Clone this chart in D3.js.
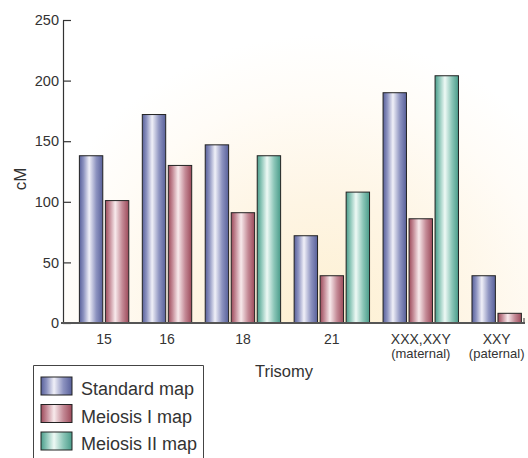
<!DOCTYPE html>
<html>
<head>
<meta charset="utf-8">
<script src="https://cdn.jsdelivr.net/npm/d3@7"></script>
<style>
  html, body { margin: 0; padding: 0; background: #fff; }
  svg { display: block; }
  text { font-family: "Liberation Sans", Arial, Helvetica, sans-serif; fill: #333; }
</style>
</head>
<body>
<svg id="chart" width="528" height="458"></svg>
<script>
// ---- data ----
const categoryLines = [["15"], ["16"], ["18"], ["21"], ["XXX,XXY", "(maternal)"], ["XXY", "(paternal)"]];
const standardMap = [138, 172, 147, 72, 190, 39];
const meiosisIMap = [101, 130, 91, 39, 86, 8];
const meiosisIIMap = [null, null, 138, 108, 204, null];
const seriesNames = ["Standard map", "Meiosis I map", "Meiosis II map"];
const yTicks = [0, 50, 100, 150, 200, 250];
const xTitle = "Trisomy";
const yTitle = "cM";

// ---- styles ----
const seriesColors = [
  { dark: "#58609a", mid: "#8d93c0", light: "#f0f0f8" },
  { dark: "#9c4a5a", mid: "#c48a96", light: "#f8eaec" },
  { dark: "#4a9c8a", mid: "#8cc6b8", light: "#eef9f5" }
];

const svg = d3.select("#chart");
const W = 528, H = 458;
const axisX = 63, plotTop = 20, plotBottom = 323, axisEnd = 527;

// layout in bar units
const leftPad = 0.63, groupGap = 0.42, barW = 0.9;
const seriesVals = [standardMap, meiosisIMap, meiosisIIMap];
const groups = [];
let u = leftPad;
categoryLines.forEach((lines, ci) => {
  const bars = [];
  seriesVals.forEach((vals, si) => {
    if (vals[ci] != null) bars.push({ si, v: vals[ci] });
  });
  bars.forEach((b, k) => b.u = u + k);
  groups.push({ lines, bars, start: u, n: bars.length });
  u += bars.length + groupGap;
});
const unitPx = 26;
const totalUnits = (axisEnd - axisX) / unitPx;

const x = d3.scaleLinear().domain([0, totalUnits]).range([axisX, axisEnd]);
const y = d3.scaleLinear().domain([0, 250]).range([plotBottom, plotTop]);

// ---- defs ----
const defs = svg.append("defs");
const bg = defs.append("radialGradient").attr("id", "bg")
  .attr("gradientUnits", "userSpaceOnUse")
  .attr("cx", 320).attr("cy", 335).attr("r", 300);
bg.append("stop").attr("offset", 0).attr("stop-color", "#fdefcf");
bg.append("stop").attr("offset", 0.45).attr("stop-color", "#fef5e4");
bg.append("stop").attr("offset", 0.8).attr("stop-color", "#fffcf7");
bg.append("stop").attr("offset", 1).attr("stop-color", "#ffffff");

seriesColors.forEach((c, i) => {
  const g = defs.append("linearGradient").attr("id", "grad" + i)
    .attr("x1", 0).attr("x2", 1).attr("y1", 0).attr("y2", 0);
  g.append("stop").attr("offset", 0).attr("stop-color", c.dark);
  g.append("stop").attr("offset", 0.18).attr("stop-color", c.mid);
  g.append("stop").attr("offset", 0.42).attr("stop-color", c.light);
  g.append("stop").attr("offset", 0.72).attr("stop-color", c.mid);
  g.append("stop").attr("offset", 1).attr("stop-color", c.dark);
});

// background
svg.append("rect").attr("x", axisX).attr("y", 0)
  .attr("width", W - axisX).attr("height", plotBottom)
  .attr("fill", "url(#bg)");

// bars
const barG = svg.append("g");
groups.forEach(g => {
  g.bars.forEach(b => {
    barG.append("rect")
      .attr("x", x(b.u))
      .attr("y", y(b.v))
      .attr("width", x(barW) - x(0))
      .attr("height", y(0) - y(b.v))
      .attr("fill", `url(#grad${b.si})`)
      .attr("stroke", "#222")
      .attr("stroke-width", 1);
  });
});

// y axis
const yAxis = d3.axisLeft(y).tickValues(yTicks).tickSizeInner(-8).tickSizeOuter(0).tickPadding(4);
const yg = svg.append("g").attr("transform", `translate(${axisX},0)`).call(yAxis);
yg.select(".domain").attr("stroke", "#333").attr("stroke-width", 1.2);
yg.selectAll(".tick line").attr("stroke", "#333").attr("stroke-width", 1.2);
yg.selectAll(".tick text").style("font-size", "14.5px").attr("fill", "#333")
  .style("font-family", "'Liberation Sans', Arial, sans-serif");

// baseline
svg.append("line").attr("x1", axisX - 2).attr("x2", x(totalUnits) - 2)
  .attr("y1", y(0)).attr("y2", y(0))
  .attr("stroke", "#555").attr("stroke-width", 2);
svg.append("line").attr("x1", x(totalUnits) - 3).attr("x2", x(totalUnits) - 3)
  .attr("y1", y(0)).attr("y2", y(0) - 5)
  .attr("stroke", "#555").attr("stroke-width", 1.2);

// category labels
groups.forEach(g => {
  const cx = (x(g.start) + x(g.start + g.n - 1 + barW)) / 2;
  g.lines.forEach((l, i) => {
    svg.append("text").attr("text-anchor", "middle")
      .attr("x", cx).attr("y", 344 + i * 14)
      .style("font-size", i === 0 ? "14px" : "13px").text(l);
  });
});

// axis titles
svg.append("text").attr("x", 284).attr("y", 377).attr("text-anchor", "middle")
  .style("font-size", "16.5px").text(xTitle);
svg.append("text").attr("transform", `translate(26,179) rotate(-90)`)
  .attr("text-anchor", "middle").style("font-size", "17px").text(yTitle);

// legend
const lg = svg.append("g");
lg.append("path").attr("d", `M33.5,${H + 2} V365.5 H203.5 V${H + 2}`)
  .attr("fill", "#fff").attr("stroke", "#444").attr("stroke-width", 1);
seriesNames.forEach((name, i) => {
  const yy = 377 + i * 27.5;
  lg.append("rect").attr("x", 41).attr("y", yy).attr("width", 31).attr("height", 18)
    .attr("fill", `url(#grad${i})`).attr("stroke", "#222").attr("stroke-width", 1);
  lg.append("text").attr("x", 81).attr("y", yy + 18).style("font-size", "18px").text(name);
});
</script>
</body>
</html>
